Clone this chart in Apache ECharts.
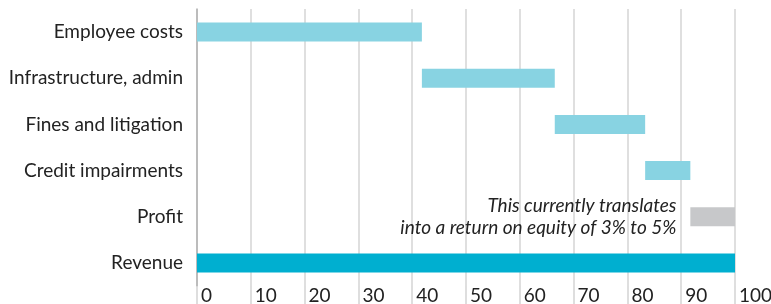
<!DOCTYPE html>
<html>
<head>
<meta charset="utf-8">
<script src="https://cdn.jsdelivr.net/npm/echarts@6/dist/echarts.min.js"></script>
<style>
  html, body { margin: 0; padding: 0; background: #fff; }
  #chart { width: 771px; height: 304px; }
</style>
</head>
<body>
<div id="chart"></div>
<script>
// categories top to bottom
var categories = ['Employee costs', 'Infrastructure, admin', 'Fines and litigation', 'Credit impairments', 'Profit', 'Revenue'];
// share of revenue eaten by each item
var costs = [41.8, 24.7, 16.8, 8.4];
var revenue = 100;
var xTicks = [0, 10, 20, 30, 40, 50, 60, 70, 80, 90, 100];
var note = ['This currently translates', 'into a return on equity of 3% to 5%'];

// waterfall: each cost starts where the previous ended, profit is what is left
var bases = [];
var values = [];
var run = 0;
costs.forEach(function (c) {
  bases.push(run);
  values.push(c);
  run += c;
});
bases.push(run);
values.push(revenue - run);
bases.push(0);
values.push(revenue);

var lightBlue = '#88d3e2';
var visible = values.map(function (v, i) {
  var item = { value: v, itemStyle: { color: lightBlue } };
  if (categories[i] === 'Profit') {
    item.itemStyle.color = '#c7c8ca';
    item.label = {
      show: true,
      position: 'left',
      distance: 14,
      align: 'right',
      formatter: note.join('\n'),
      fontStyle: 'italic',
      fontSize: 19,
      lineHeight: 22,
      color: '#222',
      fontFamily: 'Lato'
    };
  }
  if (categories[i] === 'Revenue') item.itemStyle.color = '#00afd0';
  return item;
});

var myChart = echarts.init(document.getElementById('chart'));
var option = {
  animation: false,
  grid: { left: 197, right: 36, top: 9, bottom: 18, containLabel: false, outerBoundsMode: 'none' },
  xAxis: {
    type: 'value',
    min: xTicks[0],
    max: xTicks[xTicks.length - 1],
    interval: 10,
    axisLine: { show: false },
    axisTick: { show: true, length: 19, lineStyle: { color: '#d4d4d4', width: 1.5 } },
    splitLine: { show: true, lineStyle: { color: '#d4d4d4', width: 1.5 } },
    axisLabel: {
      align: 'left',
      margin: 0,
      padding: [0, 0, 0, 4],
      fontSize: 19,
      color: '#222',
      fontFamily: 'Lato',
      hideOverlap: false
    }
  },
  yAxis: {
    type: 'category',
    inverse: true,
    data: categories,
    axisLine: { show: true, lineStyle: { color: '#b0b0b0', width: 1.5 } },
    axisTick: { show: false },
    axisLabel: { margin: 14, fontSize: 19, color: '#222', fontFamily: 'Lato' }
  },
  series: [
    {
      type: 'bar',
      stack: 'w',
      barWidth: 19,
      itemStyle: { color: 'transparent' },
      data: bases,
      silent: true
    },
    {
      type: 'bar',
      stack: 'w',
      barWidth: 19,
      data: visible
    }
  ]
};
myChart.setOption(option);
</script>
</body>
</html>
